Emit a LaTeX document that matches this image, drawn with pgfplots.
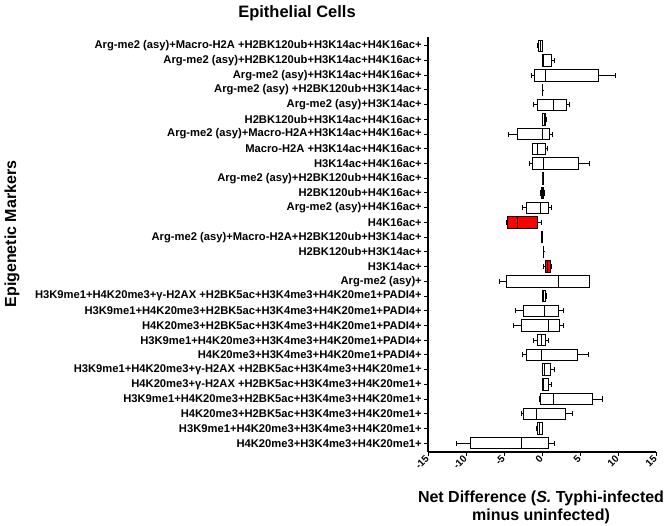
\documentclass[border=0pt]{standalone}
\usepackage{fontspec}
\setmainfont{Liberation Sans}
\usepackage{pgfplots}
\pgfplotsset{compat=1.18}
\usepgfplotslibrary{statistics}
\newcommand{\bx}[7]{\addplot[boxplot prepared={draw position=#1, lower whisker=#2, lower quartile=#3, median=#4, upper quartile=#5, upper whisker=#6}, draw=black, fill=#7, line width=0.9pt] coordinates {};}
\begin{document}
\begin{tikzpicture}[x=1pt,y=1pt]
\useasboundingbox (0,0) rectangle (668,525);
\begin{axis}[
  at={(428pt,73pt)}, anchor=south west,
  scale only axis, width=228pt, height=415pt,
  xmin=-15, xmax=15, ymin=0.4, ymax=28.6,
  axis lines*=left,
  axis line style={line width=1.2pt},
  tick style={line width=1pt, black},
  tick align=outside, major tick length=4pt,
  xtick={-15,-10,-5,0,5,10,15},
  ytick={1,...,28},
  /pgf/number format/assume math mode=true,
  xticklabel style={font=\bfseries\fontsize{10}{12}\selectfont, rotate=45, anchor=east, inner sep=1pt},
  yticklabel style={font=\bfseries\fontsize{11.2}{13}\selectfont, inner sep=2pt},
  yticklabels={
    {H4K20me3+H3K4me3+H4K20me1+},
    {H3K9me1+H4K20me3+H3K4me3+H4K20me1+},
    {H4K20me3+H2BK5ac+H3K4me3+H4K20me1+},
    {H3K9me1+H4K20me3+H2BK5ac+H3K4me3+H4K20me1+},
    {H4K20me3+γ-H2AX +H2BK5ac+H3K4me3+H4K20me1+},
    {H3K9me1+H4K20me3+γ-H2AX +H2BK5ac+H3K4me3+H4K20me1+},
    {H4K20me3+H3K4me3+H4K20me1+PADI4+},
    {H3K9me1+H4K20me3+H3K4me3+H4K20me1+PADI4+},
    {H4K20me3+H2BK5ac+H3K4me3+H4K20me1+PADI4+},
    {H3K9me1+H4K20me3+H2BK5ac+H3K4me3+H4K20me1+PADI4+},
    {H3K9me1+H4K20me3+γ-H2AX +H2BK5ac+H3K4me3+H4K20me1+PADI4+},
    {Arg-me2 (asy)+},
    {H3K14ac+},
    {H2BK120ub+H3K14ac+},
    {Arg-me2 (asy)+Macro-H2A+H2BK120ub+H3K14ac+},
    {H4K16ac+},
    {Arg-me2 (asy)+H4K16ac+},
    {H2BK120ub+H4K16ac+},
    {Arg-me2 (asy)+H2BK120ub+H4K16ac+},
    {H3K14ac+H4K16ac+},
    {Macro-H2A +H3K14ac+H4K16ac+},
    {Arg-me2 (asy)+Macro-H2A+H3K14ac+H4K16ac+},
    {H2BK120ub+H3K14ac+H4K16ac+},
    {Arg-me2 (asy)+H3K14ac+},
    {Arg-me2 (asy) +H2BK120ub+H3K14ac+},
    {Arg-me2 (asy)+H3K14ac+H4K16ac+},
    {Arg-me2 (asy)+H2BK120ub+H3K14ac+H4K16ac+},
    {Arg-me2 (asy)+Macro-H2A +H2BK120ub+H3K14ac+H4K16ac+}
  },
  boxplot/draw direction=x,
  boxplot/box extend=0.78,
  boxplot/whisker extend=0.35,
  clip=false,
]
% draw position, lower whisker, Q1, median, Q3, upper whisker, fill
\bx{28}{-0.55}{-0.45}{-0.2}{0.0}{0.1}{white}
\bx{27}{0.05}{0.1}{0.2}{1.2}{1.6}{white}
\bx{26}{-1.45}{-1.0}{0.4}{7.4}{9.6}{white}
\bx{25}{0.0}{0.02}{0.05}{0.07}{0.1}{white}
\bx{24}{-1.15}{-0.57}{1.5}{3.17}{3.6}{white}
\bx{23}{0.05}{0.1}{0.3}{0.5}{0.6}{white}
\bx{22}{-4.35}{-3.25}{0.1}{0.97}{1.4}{white}
\bx{21}{-1.3}{-1.2}{-0.6}{0.45}{0.75}{white}
\bx{20}{-1.67}{-1.27}{0.13}{4.8}{6.3}{white}
\bx{19}{0.1}{0.12}{0.13}{0.14}{0.16}{white}
\bx{18}{-0.2}{-0.1}{0.05}{0.25}{0.35}{white}
\bx{17}{-2.6}{-2.0}{-0.22}{0.88}{1.2}{white}
\bx{16}{-4.66}{-4.57}{-3.25}{-0.62}{-0.05}{red}
\bx{15}{-0.1}{-0.05}{0.0}{0.05}{0.1}{white}
\bx{14}{0.15}{0.18}{0.2}{0.22}{0.25}{white}
\bx{13}{0.2}{0.4}{0.75}{1.05}{1.3}{red}
\bx{12}{-5.54}{-4.66}{2.15}{6.24}{6.3}{white}
\bx{11}{0.0}{0.05}{0.2}{0.45}{0.6}{white}
\bx{10}{-3.47}{-2.46}{0.26}{2.15}{2.81}{white}
\bx{9}{-3.78}{-2.64}{0.84}{2.24}{2.81}{white}
\bx{8}{-1.1}{-0.57}{-0.13}{0.4}{0.9}{white}
\bx{7}{-2.6}{-2.0}{-0.13}{4.7}{6.1}{white}
\bx{6}{0.0}{0.05}{0.3}{1.06}{1.6}{white}
\bx{5}{0.0}{0.05}{0.15}{0.88}{1.27}{white}
\bx{4}{-0.4}{-0.26}{1.5}{6.64}{7.96}{white}
\bx{3}{-2.77}{-2.46}{-0.7}{3.03}{4.05}{white}
\bx{2}{-0.7}{-0.6}{-0.3}{0.0}{0.1}{white}
\bx{1}{-11.25}{-9.37}{-2.68}{0.84}{1.62}{white}
\end{axis}
\node[font=\bfseries\fontsize{16.5}{19}\selectfont] at (297,512) {Epithelial Cells};
\node[font=\bfseries\fontsize{16}{19}\selectfont, rotate=90] at (12,291) {Epigenetic Markers};
\node[font=\bfseries\fontsize{16}{19}\selectfont, anchor=base] at (541,23) {Net Difference (\textit{S.} Typhi-infected};
\node[font=\bfseries\fontsize{16}{19}\selectfont, anchor=base] at (541,5) {minus uninfected)};
\end{tikzpicture}
\end{document}
